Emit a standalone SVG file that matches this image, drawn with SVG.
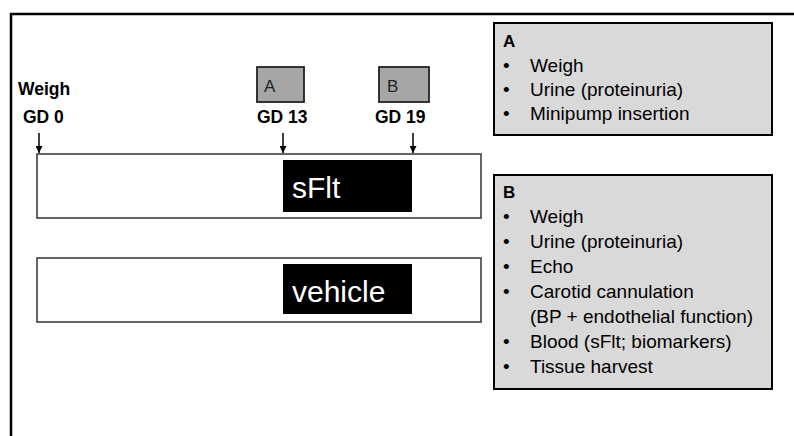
<svg xmlns="http://www.w3.org/2000/svg" width="794" height="436" viewBox="0 0 794 436">
  <style>
    .frame { fill: none; stroke: #000; stroke-width: 2.5; }
    .track { fill: #fff; stroke: #333; stroke-width: 1.5; }
    .bar { fill: #000; }
    .bar-text { font-family: "Liberation Sans", Arial, sans-serif; font-size: 30px; fill: #fff; }
    .tag { fill: #a6a6a6; stroke: #222; stroke-width: 1.8; }
    .tag-text { font-family: "Liberation Sans", Arial, sans-serif; font-size: 17px; fill: #222; }
    .label { font-family: "Liberation Sans", Arial, sans-serif; font-size: 17.5px; font-weight: bold; fill: #000; }
    .panel { fill: #d9d9d9; stroke: #000; stroke-width: 2; }
    .panel-title { font-family: "Liberation Sans", Arial, sans-serif; font-size: 17px; font-weight: bold; fill: #000; }
    .panel-text { font-family: "Liberation Sans", Arial, sans-serif; font-size: 19px; fill: #000; }
    .arrow { stroke: #000; stroke-width: 1.5; marker-end: url(#head); }
  </style>
  <defs>
    <marker id="head" viewBox="0 0 10 10" refX="10" refY="5" markerWidth="7" markerHeight="7" markerUnits="userSpaceOnUse" orient="auto">
      <path d="M0,0 L10,5 L0,10 z" fill="#000"/>
    </marker>
  </defs>

  <rect width="794" height="436" fill="#fff"/>
  <!-- outer frame -->
  <rect class="frame" x="11" y="14" width="800" height="440"/>

  <!-- timeline labels -->
  <g id="gd0">
    <text class="label" x="18" y="95">Weigh</text>
    <text class="label" x="23" y="123">GD 0</text>
  </g>
  <g id="tagA">
    <rect class="tag" x="257" y="67" width="47" height="35"/>
    <text class="tag-text" x="264" y="92">A</text>
    <text class="label" x="257" y="123">GD 13</text>
  </g>
  <g id="tagB">
    <rect class="tag" x="379" y="67" width="50" height="35"/>
    <text class="tag-text" x="387" y="92">B</text>
    <text class="label" x="375" y="123">GD 19</text>
  </g>

  <!-- time markers -->
  <g id="connectors">
    <line class="arrow" x1="39" y1="133" x2="39" y2="153"/>
    <line class="arrow" x1="283" y1="133" x2="283" y2="153"/>
    <line class="arrow" x1="413" y1="133" x2="413" y2="153"/>
  </g>

  <!-- treatment tracks -->
  <g id="track-sflt">
    <rect class="track" x="37" y="154" width="444" height="64"/>
    <rect class="bar" x="283" y="160" width="129" height="52"/>
    <text class="bar-text" x="292" y="198">sFlt</text>
  </g>
  <g id="track-vehicle">
    <rect class="track" x="37" y="258" width="444" height="64"/>
    <rect class="bar" x="283" y="264" width="129" height="50"/>
    <text class="bar-text" x="292" y="302">vehicle</text>
  </g>

  <!-- procedure panels -->
  <g id="panelA">
    <rect class="panel" x="494" y="23" width="278" height="112"/>
    <text class="panel-title" x="503" y="47">A</text>
    <g class="panel-text">
      <text x="503" y="72">•</text><text x="530" y="72">Weigh</text>
      <text x="503" y="96">•</text><text x="530" y="96">Urine (proteinuria)</text>
      <text x="503" y="120">•</text><text x="530" y="120">Minipump insertion</text>
    </g>
  </g>
  <g id="panelB">
    <rect class="panel" x="494" y="175" width="278" height="214"/>
    <text class="panel-title" x="503" y="198">B</text>
    <g class="panel-text">
      <text x="503" y="223">•</text><text x="530" y="223">Weigh</text>
      <text x="503" y="248">•</text><text x="530" y="248">Urine (proteinuria)</text>
      <text x="503" y="273">•</text><text x="530" y="273">Echo</text>
      <text x="503" y="298">•</text><text x="530" y="298">Carotid cannulation</text>
      <text x="530" y="323">(BP + endothelial function)</text>
      <text x="503" y="348">•</text><text x="530" y="348">Blood (sFlt; biomarkers)</text>
      <text x="503" y="373">•</text><text x="530" y="373">Tissue harvest</text>
    </g>
  </g>
</svg>
